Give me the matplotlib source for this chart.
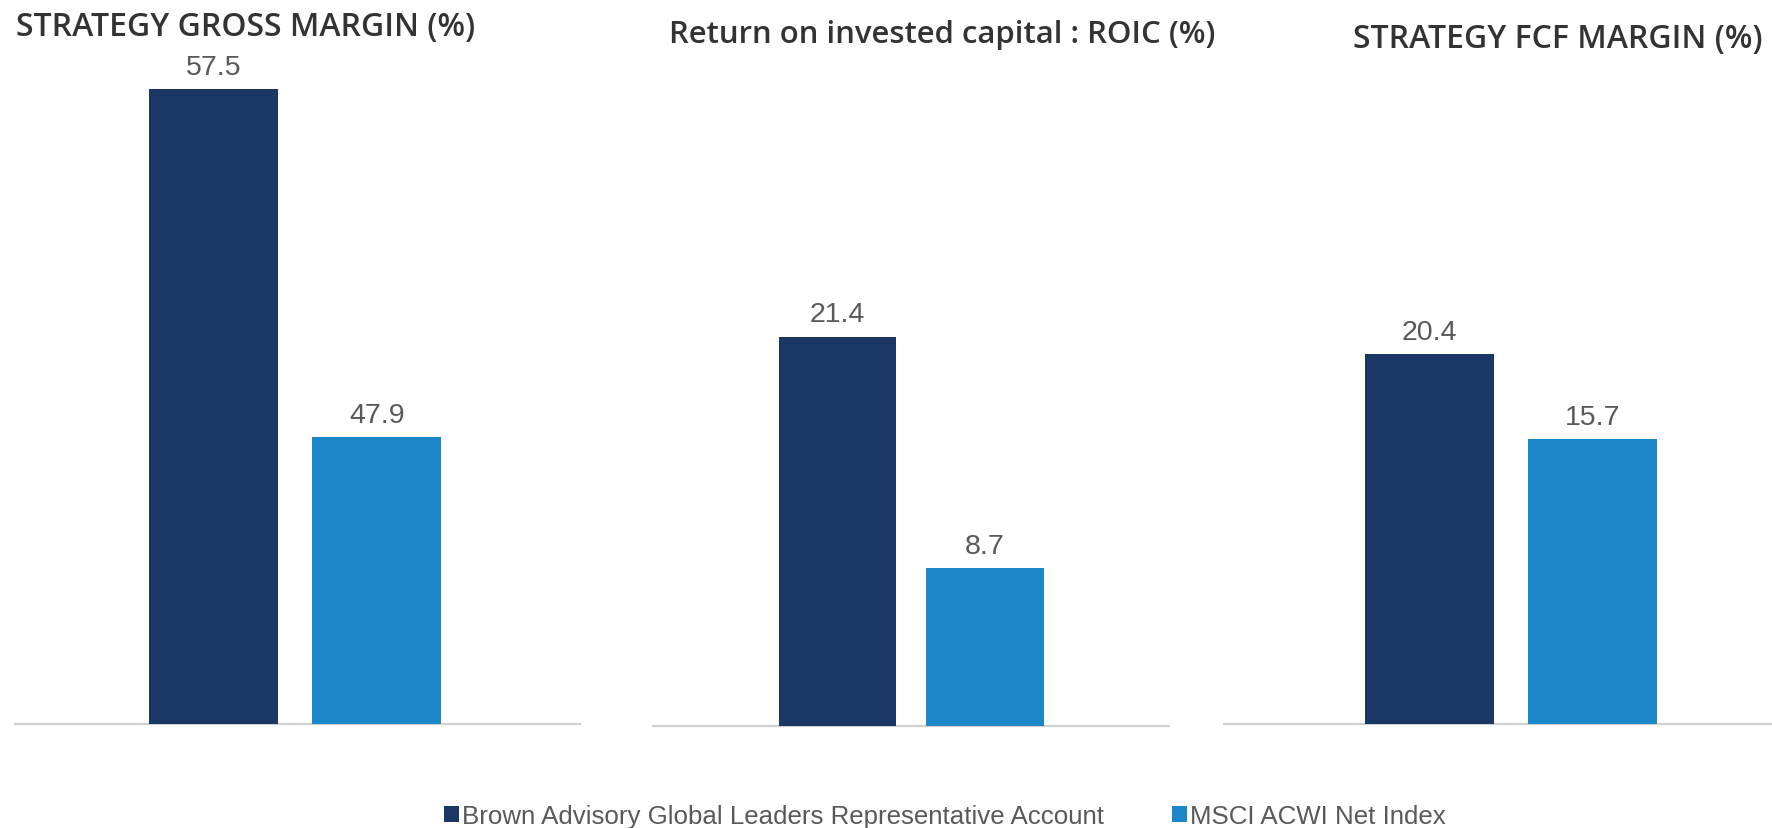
import matplotlib
matplotlib.use("Agg")
import matplotlib.pyplot as plt
from matplotlib import font_manager as fm

# ---- data ----
series = ["Brown Advisory Global Leaders Representative Account", "MSCI ACWI Net Index"]
titles = ["STRATEGY GROSS MARGIN (%)", "Return on invested capital : ROIC (%)", "STRATEGY FCF MARGIN (%)"]
gross_margin = [57.5, 47.9]
roic = [21.4, 8.7]
fcf_margin = [20.4, 15.7]
panel_values = [gross_margin, roic, fcf_margin]
colors = ["#1a3863", "#1b87c9"]

avail = {f.name for f in fm.fontManager.ttflist}
title_font = "Open Sans" if "Open Sans" in avail else "DejaVu Sans"

W, H, DPI = 1772, 829, 100
fig = plt.figure(figsize=(W / DPI, H / DPI), dpi=DPI)

# layout in pixels: (left, right, baseline, px_per_unit, ymin, bar_spacing_px, bar_width_px, first_center_px)
layouts = [
    (15, 580, 725, 36.3, 40, 163.3, 129.3, 213.5),
    (653, 1169, 727, 18.2, 0, 147.1, 117.8, 837.5),
    (1224, 1772, 725, 18.16, 0, 162.9, 129.0, 1429.5),
]
title_pos = [(16, 28), (669, 35), (1353, 40)]
title_sizes = [23, 22.4, 23]

handles = None
for vals, lay, title, tp, tsz in zip(panel_values, layouts, titles, title_pos, title_sizes):
    left, right, base, ppu, ymin, spacing, bw, c0 = lay
    top = 3
    ax = fig.add_axes([left / W, (H - base) / H, (right - left) / W, (base - top) / H])
    ymax = ymin + (base - top) / ppu
    ax.set_ylim(ymin, ymax)
    ax.set_xlim((left - c0) / spacing, (right - c0) / spacing)
    bars = ax.bar([0, 1], [v - ymin for v in vals], bottom=ymin, width=bw / spacing,
                  color=colors, edgecolor="none", zorder=3)
    if handles is None:
        handles = bars
    for x, v in zip([0, 1], vals):
        ax.annotate(f"{v:.1f}", (x, v), xytext=(0, 6.5), textcoords="offset points",
                    ha="center", va="bottom", fontsize=20.5, color="#595959",
                    family="Liberation Sans", annotation_clip=False)
    for s in ["top", "left", "right"]:
        ax.spines[s].set_visible(False)
    ax.spines["bottom"].set_color("#d0d0d0")
    ax.spines["bottom"].set_linewidth(1.6)
    ax.set_xticks([])
    ax.set_yticks([])
    ax.patch.set_alpha(0)
    fig.text(tp[0] / W, 1 - tp[1] / H, title, ha="left", va="center", fontsize=tsz,
             fontweight="semibold", color="#333333", family=title_font)

leg = fig.legend(handles, series, loc="center", bbox_to_anchor=(945 / W, 11.6 / H),
                 ncol=2, frameon=False, handlelength=0.56, handleheight=0.56,
                 handletextpad=0.12, columnspacing=2.65,
                 prop={"family": "Liberation Sans", "size": 18.6})
for t in leg.get_texts():
    t.set_color("#595959")

fig.savefig("out.png", dpi=DPI)
